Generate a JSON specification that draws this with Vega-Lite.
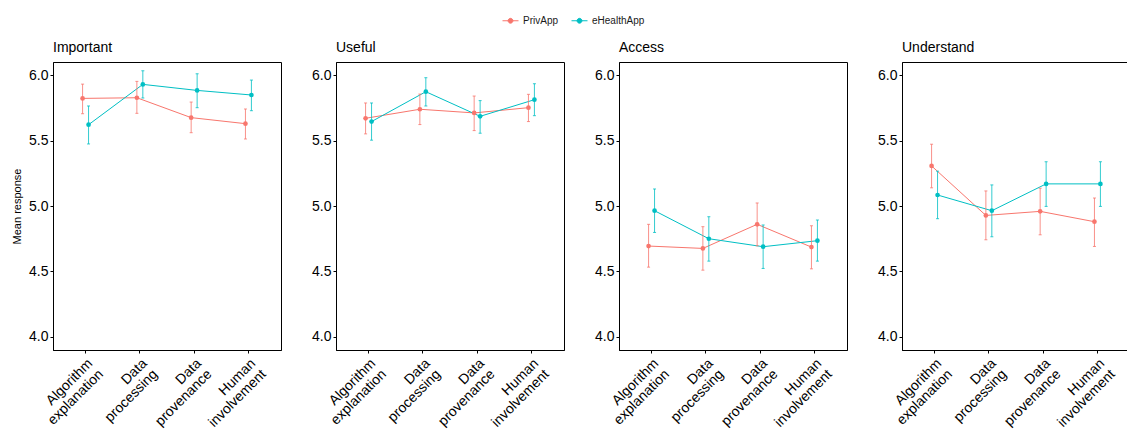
{
  "$schema": "https://vega.github.io/schema/vega-lite/v6.json",
  "background": "white",
  "padding": {"left": 11, "top": 12, "right": 0, "bottom": 0},
  "data": {"values": [
    {"measure": "Important", "item": "Algorithm explanation", "app": "PrivApp", "mean": 5.822, "lo": 5.705, "hi": 5.931},
    {"measure": "Important", "item": "Data processing", "app": "PrivApp", "mean": 5.827, "lo": 5.708, "hi": 5.952},
    {"measure": "Important", "item": "Data provenance", "app": "PrivApp", "mean": 5.675, "lo": 5.56, "hi": 5.794},
    {"measure": "Important", "item": "Human involvement", "app": "PrivApp", "mean": 5.629, "lo": 5.512, "hi": 5.741},
    {"measure": "Important", "item": "Algorithm explanation", "app": "eHealthApp", "mean": 5.621, "lo": 5.474, "hi": 5.764},
    {"measure": "Important", "item": "Data processing", "app": "eHealthApp", "mean": 5.929, "lo": 5.825, "hi": 6.033},
    {"measure": "Important", "item": "Data provenance", "app": "eHealthApp", "mean": 5.883, "lo": 5.751, "hi": 6.01},
    {"measure": "Important", "item": "Human involvement", "app": "eHealthApp", "mean": 5.848, "lo": 5.728, "hi": 5.962},
    {"measure": "Useful", "item": "Algorithm explanation", "app": "PrivApp", "mean": 5.67, "lo": 5.551, "hi": 5.787},
    {"measure": "Useful", "item": "Data processing", "app": "PrivApp", "mean": 5.739, "lo": 5.622, "hi": 5.855},
    {"measure": "Useful", "item": "Data provenance", "app": "PrivApp", "mean": 5.711, "lo": 5.576, "hi": 5.84},
    {"measure": "Useful", "item": "Human involvement", "app": "PrivApp", "mean": 5.751, "lo": 5.645, "hi": 5.853},
    {"measure": "Useful", "item": "Algorithm explanation", "app": "eHealthApp", "mean": 5.645, "lo": 5.503, "hi": 5.787},
    {"measure": "Useful", "item": "Data processing", "app": "eHealthApp", "mean": 5.873, "lo": 5.764, "hi": 5.98},
    {"measure": "Useful", "item": "Data provenance", "app": "eHealthApp", "mean": 5.685, "lo": 5.556, "hi": 5.805},
    {"measure": "Useful", "item": "Human involvement", "app": "eHealthApp", "mean": 5.812, "lo": 5.69, "hi": 5.934},
    {"measure": "Access", "item": "Algorithm explanation", "app": "PrivApp", "mean": 4.694, "lo": 4.533, "hi": 4.86},
    {"measure": "Access", "item": "Data processing", "app": "PrivApp", "mean": 4.676, "lo": 4.51, "hi": 4.842},
    {"measure": "Access", "item": "Data provenance", "app": "PrivApp", "mean": 4.86, "lo": 4.696, "hi": 5.023},
    {"measure": "Access", "item": "Human involvement", "app": "PrivApp", "mean": 4.686, "lo": 4.52, "hi": 4.849},
    {"measure": "Access", "item": "Algorithm explanation", "app": "eHealthApp", "mean": 4.964, "lo": 4.798, "hi": 5.13},
    {"measure": "Access", "item": "Data processing", "app": "eHealthApp", "mean": 4.75, "lo": 4.579, "hi": 4.918},
    {"measure": "Access", "item": "Data provenance", "app": "eHealthApp", "mean": 4.689, "lo": 4.523, "hi": 4.855},
    {"measure": "Access", "item": "Human involvement", "app": "eHealthApp", "mean": 4.735, "lo": 4.579, "hi": 4.893},
    {"measure": "Understand", "item": "Algorithm explanation", "app": "PrivApp", "mean": 5.306, "lo": 5.139, "hi": 5.472},
    {"measure": "Understand", "item": "Data processing", "app": "PrivApp", "mean": 4.928, "lo": 4.742, "hi": 5.115},
    {"measure": "Understand", "item": "Data provenance", "app": "PrivApp", "mean": 4.959, "lo": 4.78, "hi": 5.136},
    {"measure": "Understand", "item": "Human involvement", "app": "PrivApp", "mean": 4.88, "lo": 4.691, "hi": 5.061},
    {"measure": "Understand", "item": "Algorithm explanation", "app": "eHealthApp", "mean": 5.084, "lo": 4.903, "hi": 5.266},
    {"measure": "Understand", "item": "Data processing", "app": "eHealthApp", "mean": 4.964, "lo": 4.765, "hi": 5.161},
    {"measure": "Understand", "item": "Data provenance", "app": "eHealthApp", "mean": 5.169, "lo": 4.997, "hi": 5.338},
    {"measure": "Understand", "item": "Human involvement", "app": "eHealthApp", "mean": 5.169, "lo": 4.997, "hi": 5.338}
  ]},
  "spacing": 29,
  "hconcat": [
    {
      "width": 228, "height": 288,
      "title": {"text": "Important"},
      "transform": [{"filter": "datum.measure === 'Important'"}],
      "encoding": {
        "x": {"field": "item", "type": "nominal", "sort": ["Algorithm explanation", "Data processing", "Data provenance", "Human involvement"], "scale": {"paddingInner": 0.78, "paddingOuter": 0.49}, "title": null},
        "xOffset": {"field": "app", "type": "nominal", "sort": ["PrivApp", "eHealthApp"], "scale": {"paddingInner": 0, "paddingOuter": 0}},
        "color": {"field": "app", "type": "nominal", "sort": ["PrivApp", "eHealthApp"], "scale": {"domain": ["PrivApp", "eHealthApp"], "range": ["#F8766D", "#00BFC4"]}, "title": null}
      },
      "layer": [
        {"mark": {"type": "line", "strokeWidth": 1}, "encoding": {"y": {"field": "mean", "type": "quantitative", "scale": {"domain": [3.9, 6.1], "nice": false, "zero": false}, "title": "Mean response", "axis": {"values": [4, 4.5, 5, 5.5, 6], "format": ".1f"}}}},
        {"mark": {"type": "rule", "opacity": 0.8, "strokeWidth": 1}, "encoding": {"y": {"field": "lo", "type": "quantitative", "title": "Mean response"}, "y2": {"field": "hi"}}},
        {"mark": {"type": "tick", "opacity": 0.8, "thickness": 1, "size": 3}, "encoding": {"y": {"field": "lo", "type": "quantitative", "title": "Mean response"}}},
        {"mark": {"type": "tick", "opacity": 0.8, "thickness": 1, "size": 3}, "encoding": {"y": {"field": "hi", "type": "quantitative", "title": "Mean response"}}},
        {"mark": {"type": "point", "filled": true, "opacity": 1, "size": 22}, "encoding": {"y": {"field": "mean", "type": "quantitative", "title": "Mean response"}}}
      ]
    },
    {
      "width": 228, "height": 288,
      "title": {"text": "Useful"},
      "transform": [{"filter": "datum.measure === 'Useful'"}],
      "encoding": {
        "x": {"field": "item", "type": "nominal", "sort": ["Algorithm explanation", "Data processing", "Data provenance", "Human involvement"], "scale": {"paddingInner": 0.78, "paddingOuter": 0.49}, "title": null},
        "xOffset": {"field": "app", "type": "nominal", "sort": ["PrivApp", "eHealthApp"], "scale": {"paddingInner": 0, "paddingOuter": 0}},
        "color": {"field": "app", "type": "nominal", "sort": ["PrivApp", "eHealthApp"], "scale": {"domain": ["PrivApp", "eHealthApp"], "range": ["#F8766D", "#00BFC4"]}, "title": null}
      },
      "layer": [
        {"mark": {"type": "line", "strokeWidth": 1}, "encoding": {"y": {"field": "mean", "type": "quantitative", "scale": {"domain": [3.9, 6.1], "nice": false, "zero": false}, "title": null, "axis": {"values": [4, 4.5, 5, 5.5, 6], "format": ".1f"}}}},
        {"mark": {"type": "rule", "opacity": 0.8, "strokeWidth": 1}, "encoding": {"y": {"field": "lo", "type": "quantitative", "title": null}, "y2": {"field": "hi"}}},
        {"mark": {"type": "tick", "opacity": 0.8, "thickness": 1, "size": 3}, "encoding": {"y": {"field": "lo", "type": "quantitative", "title": null}}},
        {"mark": {"type": "tick", "opacity": 0.8, "thickness": 1, "size": 3}, "encoding": {"y": {"field": "hi", "type": "quantitative", "title": null}}},
        {"mark": {"type": "point", "filled": true, "opacity": 1, "size": 22}, "encoding": {"y": {"field": "mean", "type": "quantitative", "title": null}}}
      ]
    },
    {
      "width": 228, "height": 288,
      "title": {"text": "Access"},
      "transform": [{"filter": "datum.measure === 'Access'"}],
      "encoding": {
        "x": {"field": "item", "type": "nominal", "sort": ["Algorithm explanation", "Data processing", "Data provenance", "Human involvement"], "scale": {"paddingInner": 0.78, "paddingOuter": 0.49}, "title": null},
        "xOffset": {"field": "app", "type": "nominal", "sort": ["PrivApp", "eHealthApp"], "scale": {"paddingInner": 0, "paddingOuter": 0}},
        "color": {"field": "app", "type": "nominal", "sort": ["PrivApp", "eHealthApp"], "scale": {"domain": ["PrivApp", "eHealthApp"], "range": ["#F8766D", "#00BFC4"]}, "title": null}
      },
      "layer": [
        {"mark": {"type": "line", "strokeWidth": 1}, "encoding": {"y": {"field": "mean", "type": "quantitative", "scale": {"domain": [3.9, 6.1], "nice": false, "zero": false}, "title": null, "axis": {"values": [4, 4.5, 5, 5.5, 6], "format": ".1f"}}}},
        {"mark": {"type": "rule", "opacity": 0.8, "strokeWidth": 1}, "encoding": {"y": {"field": "lo", "type": "quantitative", "title": null}, "y2": {"field": "hi"}}},
        {"mark": {"type": "tick", "opacity": 0.8, "thickness": 1, "size": 3}, "encoding": {"y": {"field": "lo", "type": "quantitative", "title": null}}},
        {"mark": {"type": "tick", "opacity": 0.8, "thickness": 1, "size": 3}, "encoding": {"y": {"field": "hi", "type": "quantitative", "title": null}}},
        {"mark": {"type": "point", "filled": true, "opacity": 1, "size": 22}, "encoding": {"y": {"field": "mean", "type": "quantitative", "title": null}}}
      ]
    },
    {
      "width": 228, "height": 288,
      "title": {"text": "Understand"},
      "transform": [{"filter": "datum.measure === 'Understand'"}],
      "encoding": {
        "x": {"field": "item", "type": "nominal", "sort": ["Algorithm explanation", "Data processing", "Data provenance", "Human involvement"], "scale": {"paddingInner": 0.78, "paddingOuter": 0.49}, "title": null},
        "xOffset": {"field": "app", "type": "nominal", "sort": ["PrivApp", "eHealthApp"], "scale": {"paddingInner": 0, "paddingOuter": 0}},
        "color": {"field": "app", "type": "nominal", "sort": ["PrivApp", "eHealthApp"], "scale": {"domain": ["PrivApp", "eHealthApp"], "range": ["#F8766D", "#00BFC4"]}, "title": null}
      },
      "layer": [
        {"mark": {"type": "line", "strokeWidth": 1}, "encoding": {"y": {"field": "mean", "type": "quantitative", "scale": {"domain": [3.9, 6.1], "nice": false, "zero": false}, "title": null, "axis": {"values": [4, 4.5, 5, 5.5, 6], "format": ".1f"}}}},
        {"mark": {"type": "rule", "opacity": 0.8, "strokeWidth": 1}, "encoding": {"y": {"field": "lo", "type": "quantitative", "title": null}, "y2": {"field": "hi"}}},
        {"mark": {"type": "tick", "opacity": 0.8, "thickness": 1, "size": 3}, "encoding": {"y": {"field": "lo", "type": "quantitative", "title": null}}},
        {"mark": {"type": "tick", "opacity": 0.8, "thickness": 1, "size": 3}, "encoding": {"y": {"field": "hi", "type": "quantitative", "title": null}}},
        {"mark": {"type": "point", "filled": true, "opacity": 1, "size": 22}, "encoding": {"y": {"field": "mean", "type": "quantitative", "title": null}}}
      ]
    }
  ],
  "resolve": {"scale": {"color": "shared"}},
  "config": {
    "font": "Liberation Sans",
    "view": {"stroke": "black", "strokeWidth": 1},
    "title": {"anchor": "start", "frame": "group", "fontSize": 14, "fontWeight": "normal", "color": "black", "font": "Liberation Sans", "offset": 7},
    "axis": {"grid": false, "domainColor": "black", "tickColor": "black", "labelColor": "black", "labelFont": "Liberation Sans", "labelFontSize": 14, "tickSize": 3, "labelPadding": 2, "titleFont": "Liberation Sans", "titleFontWeight": "normal", "titleColor": "black", "titleFontSize": 11},
    "axisY": {"titlePadding": 6},
    "axisX": {"labelAngle": -45, "labelAlign": "right", "labelBaseline": "top", "labelExpr": "split(datum.label, ' ')", "labelLineHeight": 15, "labelFontSize": 14, "labelPadding": 3},
    "legend": {
      "orient": "none", "legendX": 449, "legendY": -50, "direction": "horizontal",
      "labelFont": "Liberation Sans", "labelFontSize": 10, "labelColor": "#1a1a1a",
      "symbolType": "M-1,0L1,0M-0.3,0A0.3,0.3,0,1,1,0.3,0A0.3,0.3,0,1,1,-0.3,0Z",
      "symbolSize": 256, "symbolStrokeWidth": 1, "columnPadding": 10,
      "symbolOpacity": 1
    }
  }
}
